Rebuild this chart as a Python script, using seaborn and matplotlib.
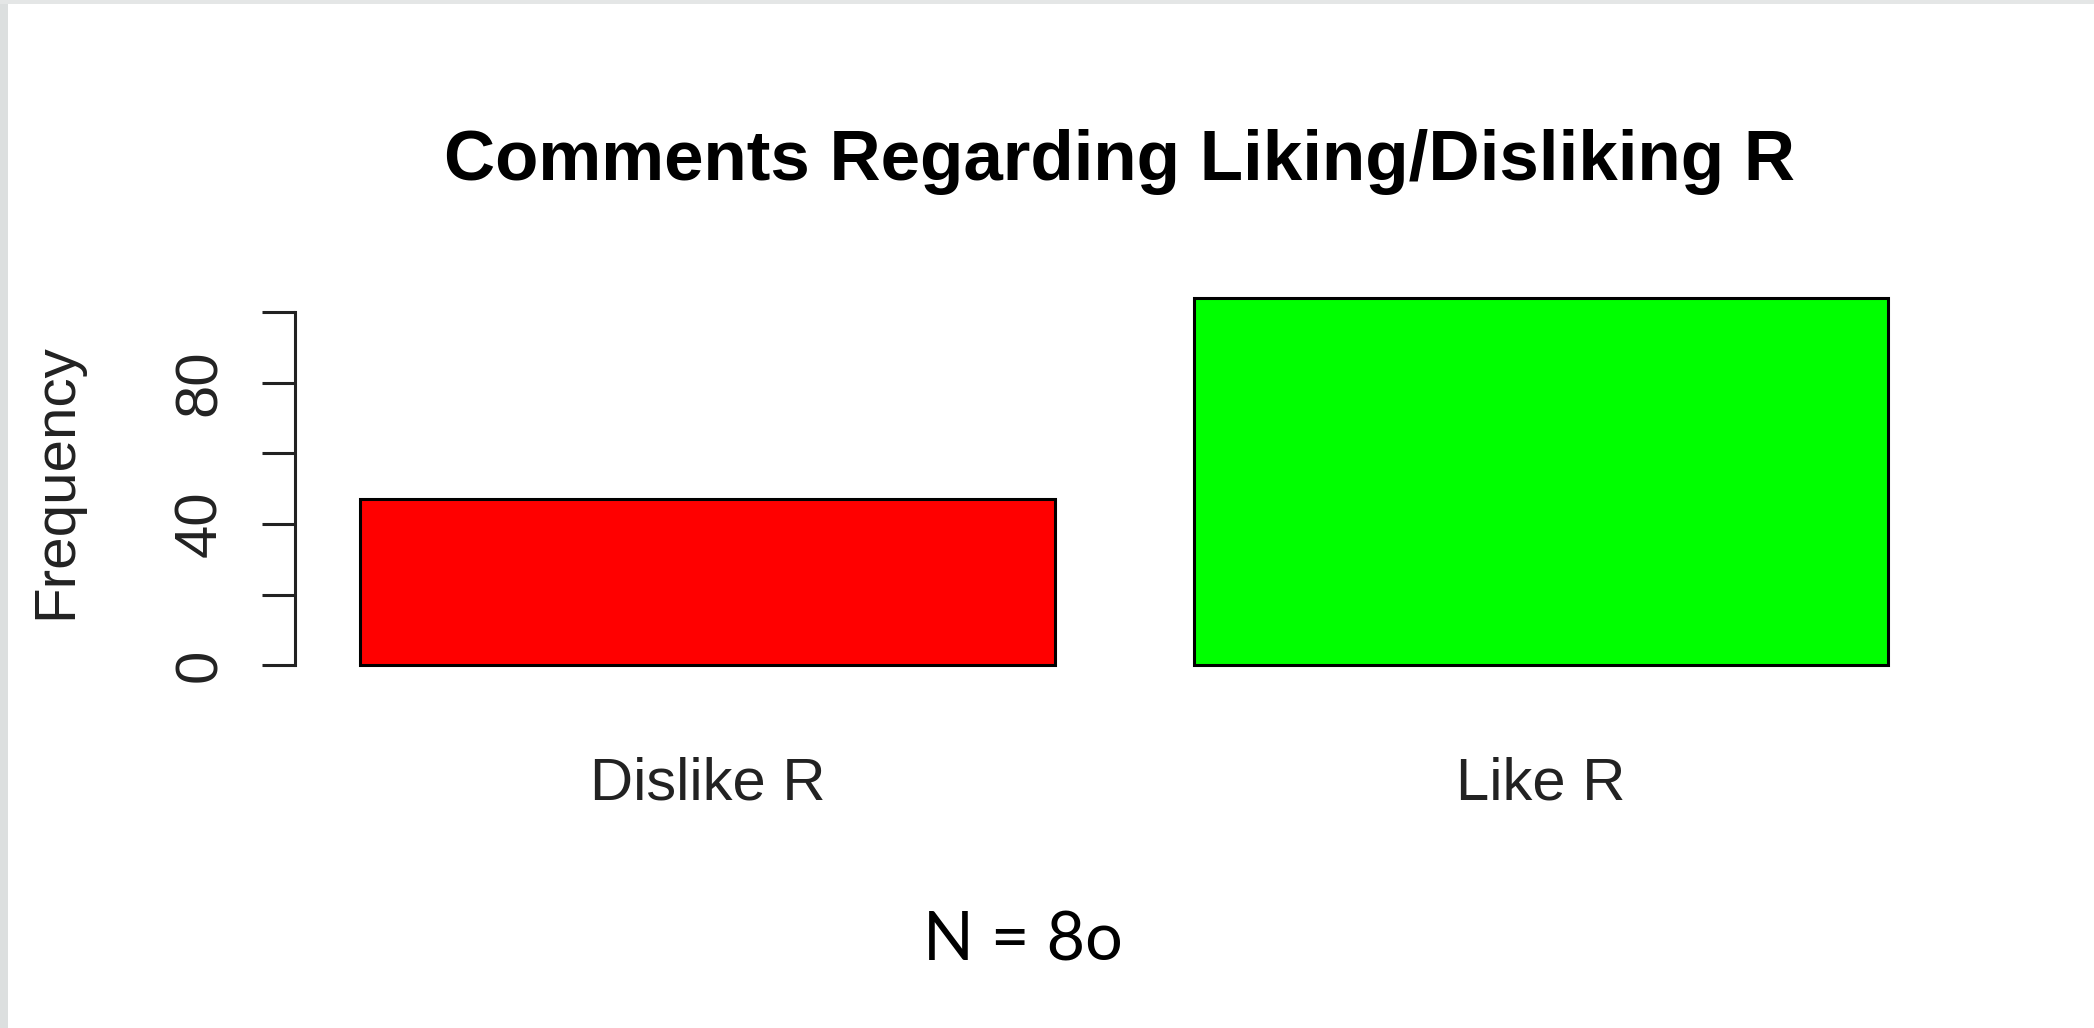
import numpy as np
import pandas as pd
import seaborn as sns
from matplotlib import pyplot as plt
from matplotlib.patches import Rectangle

# comments counted as liking / disliking R
categories = ["Dislike R", "Like R"]
frequency = [47, 104]
bar_colors = ["#FF0000", "#00FF00"]
y_ticks = [0, 20, 40, 60, 80, 100]
y_tick_labels = ["0", "", "40", "", "80", ""]

sns.set_style("white")
plt.rcParams['font.family'] = ['Liberation Sans', 'DejaVu Sans']

df = pd.DataFrame({"comment": categories, "freq": frequency})

fig = plt.figure(figsize=(20.94, 10.28), dpi=100)
ax = fig.add_axes([0.1428, 0.3385, 0.7880, 0.3862])

sns.barplot(data=df, x="comment", y="freq", hue="comment", palette=bar_colors,
            legend=False, width=1 / 1.2, saturation=1, edgecolor="black",
            linewidth=2.2, ax=ax)

ax.set_xlim(-0.49, 1.49)
ax.set_ylim(-4.16, 108.16)
ax.set_yticks(y_ticks)
ax.set_yticklabels(y_tick_labels)
ax.tick_params(axis="y", length=24, width=2.2, color="#222222", pad=24, left=True,
               labelsize=43, labelcolor="#222222")
ax.tick_params(axis="x", length=0, pad=55, labelsize=43, labelcolor="#222222")

for side in ["top", "right", "bottom"]:
    ax.spines[side].set_visible(False)
ax.spines["left"].set_bounds(0, 100)
ax.spines["left"].set_linewidth(2.2)
ax.spines["left"].set_color("#222222")
ax.spines["left"].set_position(("outward", 3))

ax.set_xlabel("")
ax.set_ylabel("")
fig.text(0.0267, 0.532, "Frequency", rotation=90, ha="center", va="center",
         fontsize=42, color="#222222")
fig.text(0.5345, 0.842, "Comments Regarding Liking/Disliking R", ha="center",
         va="center", fontsize=51, fontweight="bold", color="black")
fig.text(0.4885, 0.084, "N = 8o", ha="center", va="center", fontsize=48,
         color="black", family=["Lato", "DejaVu Sans"])

# screenshot frame on the left and top
fig.patches.append(Rectangle((0, 0), 8 / 2094, 1, transform=fig.transFigure,
                             facecolor="#dcdfdf", edgecolor="none", zorder=0))
fig.patches.append(Rectangle((0, 1 - 4 / 1028), 1, 4 / 1028, transform=fig.transFigure,
                             facecolor="#e4e6e6", edgecolor="none", zorder=0))

fig.canvas.draw()
plt.setp(ax.get_yticklabels(), rotation=90, va="center", ha="right")

fig.savefig("out.png", dpi=100)
plt.close(fig)
